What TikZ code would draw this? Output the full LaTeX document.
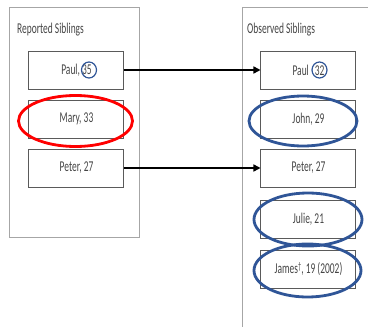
\documentclass[tikz,border=0pt]{standalone}
\usepackage{fontspec}
\setmainfont[FakeStretch=0.63]{Carlito}
\usetikzlibrary{arrows.meta,shapes.geometric}
\definecolor{txt}{HTML}{454545}
\definecolor{boxline}{HTML}{5A5A5A}
\definecolor{frameline}{HTML}{A6A6A6}
\definecolor{ringblue}{HTML}{2F5597}
\tikzset{
  every node/.style={font=\fontsize{15}{17}\selectfont, text=txt},
  frame/.style={draw=frameline, line width=1pt},
  sibbox/.style={draw=boxline, line width=1pt, minimum width=95pt, minimum height=38pt, inner sep=0pt},
  ring/.style={ellipse, draw, line width=2.8pt, inner sep=0pt, fill=none},
  smallring/.style={ellipse, draw=ringblue, line width=1.2pt, inner sep=0pt},
  arr/.style={draw=black, line width=1.5pt, -{Triangle[length=7pt,width=7pt]}},
  header/.style={anchor=base west, inner sep=0pt}
}
\begin{document}
\begin{tikzpicture}[x=1pt,y=-1pt]
\useasboundingbox (0,0) rectangle (368,327);
\clip (0,0) rectangle (368,327);
% containers
\draw[frame] (10,7) rectangle (140,237);
\draw[frame] (243,7) rectangle (380,340);
\node[header] (lhead) at (17,33) {Reported Siblings};
\node[header] (rhead) at (247,33) {Observed Siblings};
% left boxes
\node[sibbox] (lp) at (76.5,70) {Paul, 35};
\node[sibbox] (lm) at (76.5,119) {Mary, 33};
\node[sibbox] (lpe) at (76.5,168) {Peter, 27};
% right boxes
\node[sibbox] (rp) at (308.5,70) {Paul\hspace{0.4em}32};
\node[sibbox] (rj) at (308.5,119) {John, 29};
\node[sibbox] (rpe) at (308.5,168) {Peter, 27};
\node[sibbox] (rju) at (308.5,219) {Julie, 21};
\node[sibbox] (rja) at (308.5,269) {James{\fontsize{10}{10}\selectfont\raisebox{0.35em}{†}}, 19 (2002)};
% arrows
\draw[arr] (lp.east) -- (rp.west);
\draw[arr] (lpe.east) -- (rpe.west);
% rings
\node[smallring, minimum width=15pt, minimum height=16pt] (c35) at (89,70) {};
\node[smallring, minimum width=15pt, minimum height=16pt] (c32) at (319.5,70) {};
\node[ring, draw=red, minimum width=114pt, minimum height=51pt] (mring) at (75.5,121) {};
\node[ring, draw=ringblue, minimum width=108pt, minimum height=50pt] (jring) at (303,121) {};
\node[ring, draw=ringblue, minimum width=108pt, minimum height=53pt] (juring) at (308,219.5) {};
\node[ring, draw=ringblue, minimum width=107pt, minimum height=53pt] (jaring) at (307.5,270.5) {};
\end{tikzpicture}
\end{document}
